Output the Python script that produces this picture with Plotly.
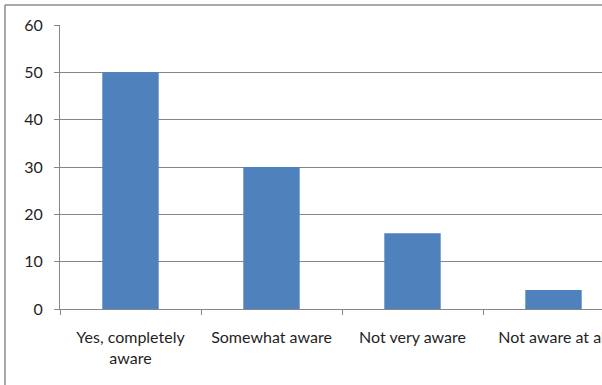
import plotly.graph_objects as go

# Survey responses: awareness levels
categories = ["Yes, completely<br>aware", "Somewhat aware", "Not very aware", "Not aware at all"]
values = [50, 30, 16, 4]
y_ticks = [0, 10, 20, 30, 40, 50, 60]

W, H = 602, 385
m_l, m_r, m_t, m_b = 60, 0, 25, 76
plot_w = W - m_l - m_r
plot_h = H - m_t - m_b

grid = "#868686"
text_color = "#1F1F1F"
font_family = "Lato, 'Open Sans', 'DejaVu Sans', sans-serif"

# each category slot is ~141px wide; the last slot runs off the right edge
slot = 141.0
x_range = [-0.5, -0.5 + plot_w / slot]

fig = go.Figure(
    go.Bar(
        x=categories,
        y=values,
        marker=dict(color="#4F81BD", line=dict(width=0)),
        width=0.4,
    )
)

fig.update_layout(
    width=W,
    height=H,
    margin=dict(l=m_l, r=m_r, t=m_t, b=m_b, pad=0),
    paper_bgcolor="white",
    plot_bgcolor="white",
    showlegend=False,
    font=dict(family=font_family, size=16, color=text_color),
)

fig.update_xaxes(
    type="category",
    range=x_range,
    showgrid=False,
    showline=True,
    linecolor=grid,
    linewidth=1,
    ticks="outside",
    tickson="boundaries",
    ticklen=5,
    tickcolor=grid,
    ticklabelstandoff=14,
    tickfont=dict(size=16, color=text_color),
    automargin=False,
    fixedrange=True,
)

fig.update_yaxes(
    range=[0, 60],
    tickvals=y_ticks,
    showgrid=True,
    gridcolor=grid,
    gridwidth=1,
    showline=True,
    linecolor=grid,
    linewidth=1,
    ticks="outside",
    ticklen=5,
    tickcolor=grid,
    ticklabelstandoff=8,
    zeroline=False,
    tickfont=dict(size=16, color=text_color),
    automargin=False,
    fixedrange=True,
)

# outer chart-area border: top and left edges (the rest lies past the page)
bx0 = (5 - m_l) / plot_w
by1 = (H - m_b - 5) / plot_h
border = dict(color="#8C8C8C", width=1.5)
fig.add_shape(type="line", xref="paper", yref="paper",
              x0=bx0, x1=1.3, y0=by1, y1=by1, line=border, layer="below")
fig.add_shape(type="line", xref="paper", yref="paper",
              x0=bx0, x1=bx0, y0=-0.5, y1=by1, line=border, layer="below")

fig.write_html("out.html")
